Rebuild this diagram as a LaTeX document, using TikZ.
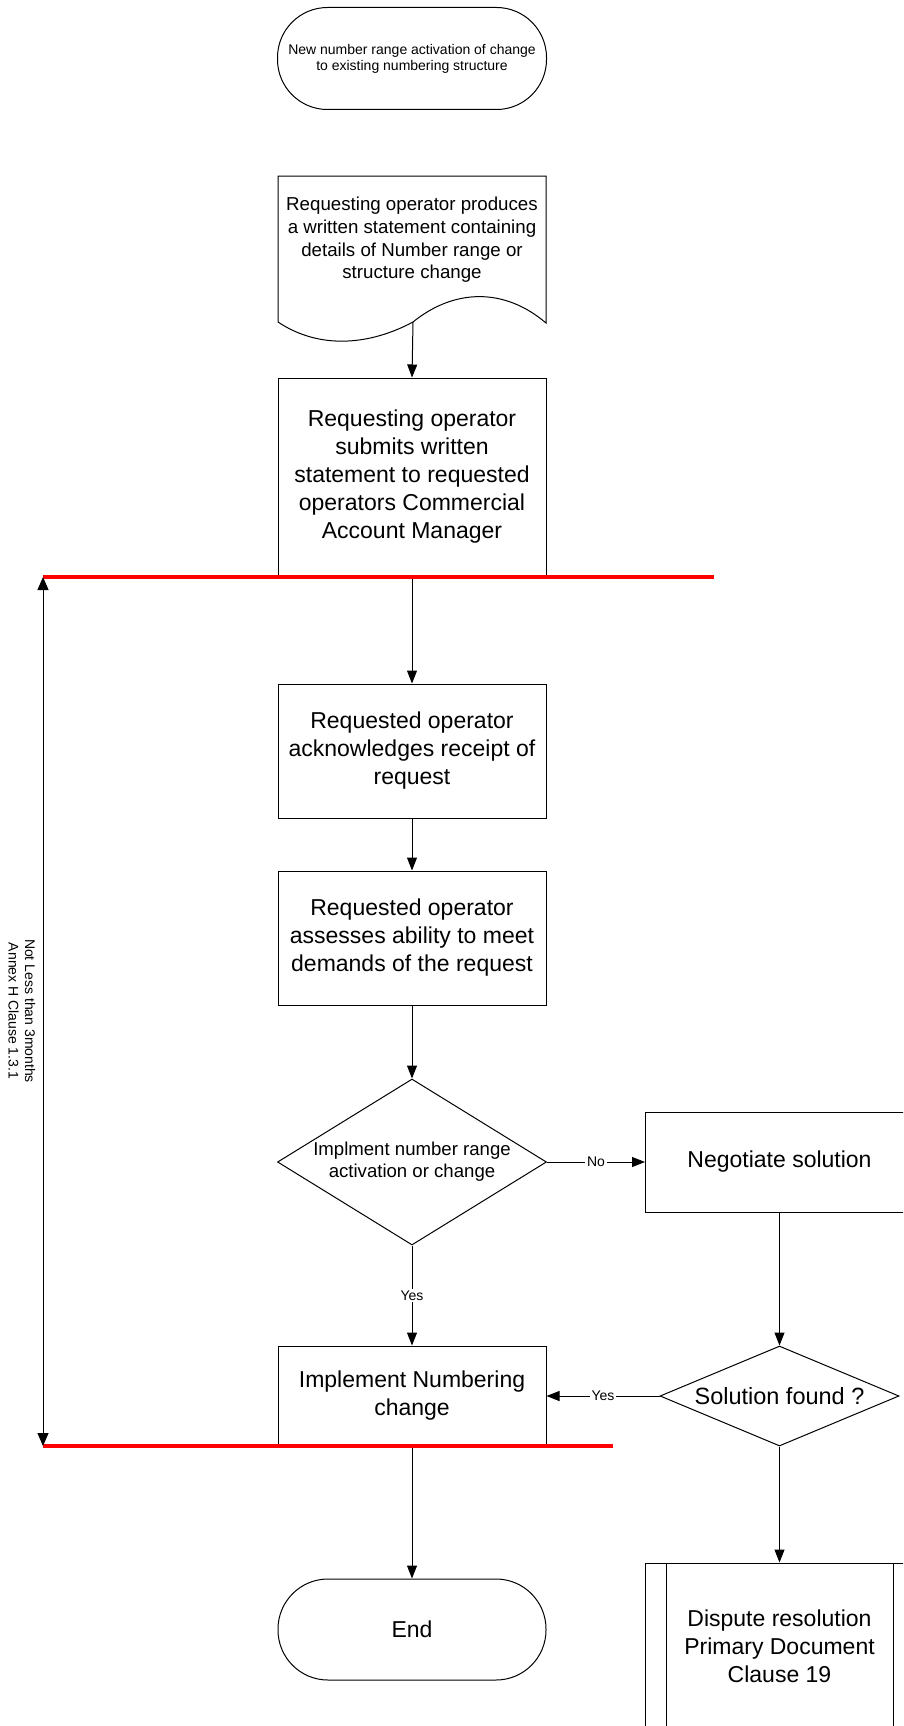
\documentclass[tikz,border=0pt]{standalone}
\usepackage{fontspec}
\setmainfont{Liberation Sans}
\usetikzlibrary{shapes.geometric,arrows.meta}
\begin{document}
\begin{tikzpicture}[x=1pt,y=-1pt,
  line width=1pt,
  arr/.style={-{Triangle[length=13pt,width=10pt]}},
  box/.style={draw, rectangle, minimum width=268pt, inner sep=0pt, align=center, font=\fontsize{23}{28}\selectfont},
  term/.style={draw, rectangle, rounded corners=50pt, minimum width=269pt, minimum height=102pt, inner sep=0pt, align=center},
  dia/.style={draw, diamond, inner sep=0pt},
  txt/.style={align=center, inner sep=0pt},
  lbl/.style={fill=white, inner sep=2pt, font=\fontsize{14}{16}\selectfont},
  redline/.style={draw=red, line width=3.5pt}
]
\useasboundingbox (0,0) rectangle (903,1726);
\clip (0,0) rectangle (903,1726);

% start terminator
\node[term, font=\fontsize{14}{16}\selectfont] (start) at (412,58.5) {New number range activation of change\\to existing numbering structure};

% document shape
\draw (278,176) -- (546,176) -- (546,323) .. controls (505,288) and (455,288) .. (413,322) .. controls (370,345) and (320,350) .. (278,322) -- cycle;
\node[txt, font=\fontsize{18.7}{22.7}\selectfont] (doc) at (412,240) {Requesting operator produces\\a written statement containing\\details of Number range or\\structure change};
\coordinate (docb) at (413,322);

% boxes
\node[box, minimum height=198pt] (b3) at (412,477) {Requesting operator\\submits written\\statement to requested\\operators Commercial\\Account Manager};
\node[box, minimum height=134pt] (b4) at (412,751) {Requested operator\\acknowledges receipt of\\request};
\node[box, minimum height=134pt] (b5) at (412,938) {Requested operator\\assesses ability to meet\\demands of the request};

% decision 1
\node[dia, minimum width=269pt, minimum height=166pt] (d1) at (412,1162) {};
\node[txt, font=\fontsize{18.6}{22}\selectfont] (d1t) at (412,1162) {Implment number range\\activation or change};

\node[box, minimum height=100pt] (neg) at (779.5,1162) {Negotiate solution};

% decision 2
\node[dia, minimum width=239pt, minimum height=100pt] (sol) at (779.5,1396) {};
\node[txt, font=\fontsize{23.5}{28}\selectfont] (solt) at (779.5,1396) {Solution found ?};

\node[box, minimum height=100pt] (impl) at (412,1396) {Implement Numbering\\change};

\node[term, minimum width=268pt, minimum height=101pt, font=\fontsize{23}{28}\selectfont] (end) at (412,1629.5) {End};

\node[box, minimum height=166pt] (disp) at (779.5,1646) {Dispute resolution\\Primary Document\\Clause 19};
\draw ([xshift=21pt]disp.north west) -- ([xshift=21pt]disp.south west);
\draw ([xshift=-21pt]disp.north east) -- ([xshift=-21pt]disp.south east);

% connectors
\draw[arr] (docb) -- (b3.north);
\draw[arr] (b3.south) -- (b4.north);
\draw[arr] (b4.south) -- (b5.north);
\draw[arr] (b5.south) -- (d1.north);
\draw[arr] (d1.south) -- node[lbl] {Yes} (impl.north);
\draw[arr] (d1.east) -- node[lbl] {No} (neg.west);
\draw[arr] (neg.south) -- (sol.north);
\draw[arr] (sol.west) -- node[lbl] {Yes} (impl.east);
\draw[arr] (impl.south) -- (end.north);
\draw[arr] (sol.south) -- (disp.north);

% red time-frame lines
\coordinate (r1a) at (43,577);
\coordinate (r1b) at (714,577);
\coordinate (r2a) at (43,1446);
\coordinate (r2b) at (613,1446);
\draw[redline] (r1a) -- (r1b);
\draw[redline] (r2a) -- (r2b);
\draw[{Triangle[length=13pt,width=11pt]}-{Triangle[length=13pt,width=11pt]}] (r1a) -- (r2a);
\node[txt, rotate=-90, font=\fontsize{14}{16.5}\selectfont] (note) at (22,1011) {Not Less than 3months\\Annex H Clause 1.3.1};
\end{tikzpicture}
\end{document}
